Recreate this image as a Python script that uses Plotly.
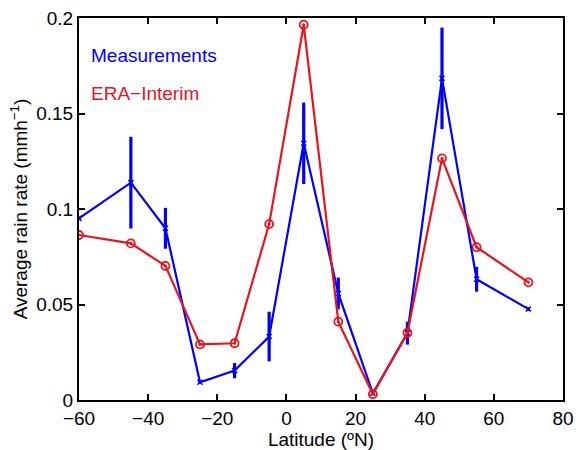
import plotly.graph_objects as go

lat = [-60, -45, -35, -25, -15, -5, 5, 15, 25, 35, 45, 55, 70]
meas = [0.0951, 0.1138, 0.0899, 0.0093, 0.0154, 0.0332, 0.1344, 0.0558, 0.0035, 0.0350, 0.1684, 0.0632, 0.0476]
meas_err = [0.001, 0.024, 0.0107, 0.0005, 0.004, 0.013, 0.0213, 0.0083, 0.0005, 0.006, 0.0266, 0.0065, 0.001]
era = [0.0864, 0.0820, 0.0702, 0.0291, 0.0297, 0.0921, 0.1965, 0.0410, 0.0030, 0.0352, 0.1265, 0.0800, 0.0616]

xticks = [-60, -40, -20, 0, 20, 40, 60, 80]
xtick_text = ["\u221260", "\u221240", "\u221220", "0", "20", "40", "60", "80"]
yticks = [0, 0.05, 0.1, 0.15, 0.2]
ytick_text = ["0", "0.05", "0.1", "0.15", "0.2"]

BLUE = "#0000ff"
RED = "#e8141c"
FONT = "Liberation Sans, Arial, sans-serif"
FS = 19

fig = go.Figure()
fig.add_trace(go.Scatter(
    x=lat, y=meas, mode="lines+markers",
    line=dict(color=BLUE, width=2.2),
    marker=dict(symbol="x-thin", size=5, line=dict(color=BLUE, width=1.5)),
    error_y=dict(type="data", array=meas_err, visible=True, color=BLUE, thickness=3.2, width=0),
    showlegend=False,
))
fig.add_trace(go.Scatter(
    x=lat, y=era, mode="lines+markers",
    line=dict(color=RED, width=2.2),
    marker=dict(symbol="circle-dot", size=8, color="rgba(0,0,0,0)", line=dict(color=RED, width=1.8)),
    showlegend=False,
))

fig.add_annotation(x=0.02, y=0.902, xref="paper", yref="paper", text="Measurements",
                   showarrow=False, xanchor="left", yanchor="middle",
                   font=dict(family=FONT, size=FS, color=BLUE))
fig.add_annotation(x=0.02, y=0.802, xref="paper", yref="paper", text="ERA\u2212Interim",
                   showarrow=False, xanchor="left", yanchor="middle",
                   font=dict(family=FONT, size=FS, color=RED))

axis_common = dict(showline=True, linecolor="black", linewidth=2, mirror="ticks",
                   ticks="inside", ticklen=6, tickwidth=1.5, tickcolor="black",
                   showgrid=False, zeroline=False, automargin=False,
                   tickfont=dict(family=FONT, size=FS, color="black"))

fig.update_xaxes(range=[-60, 80], tickvals=xticks, ticktext=xtick_text,
                 title=dict(text="Latitude (\u00baN)", font=dict(family=FONT, size=FS, color="black"), standoff=0),
                 **axis_common)
fig.update_yaxes(range=[0, 0.2], tickvals=yticks, ticktext=ytick_text,
                 title=dict(text="Average rain rate (mmh<sup>\u22121</sup>)", font=dict(family=FONT, size=FS, color="black"), standoff=4),
                 **axis_common)

fig.update_layout(width=576, height=450, margin=dict(l=79, r=13, t=18, b=50),
                  plot_bgcolor="white", paper_bgcolor="white")

fig.write_html("out.html", config={"displayModeBar": False},
               post_script="document.body.style.margin='0';document.body.style.overflow='hidden';")
